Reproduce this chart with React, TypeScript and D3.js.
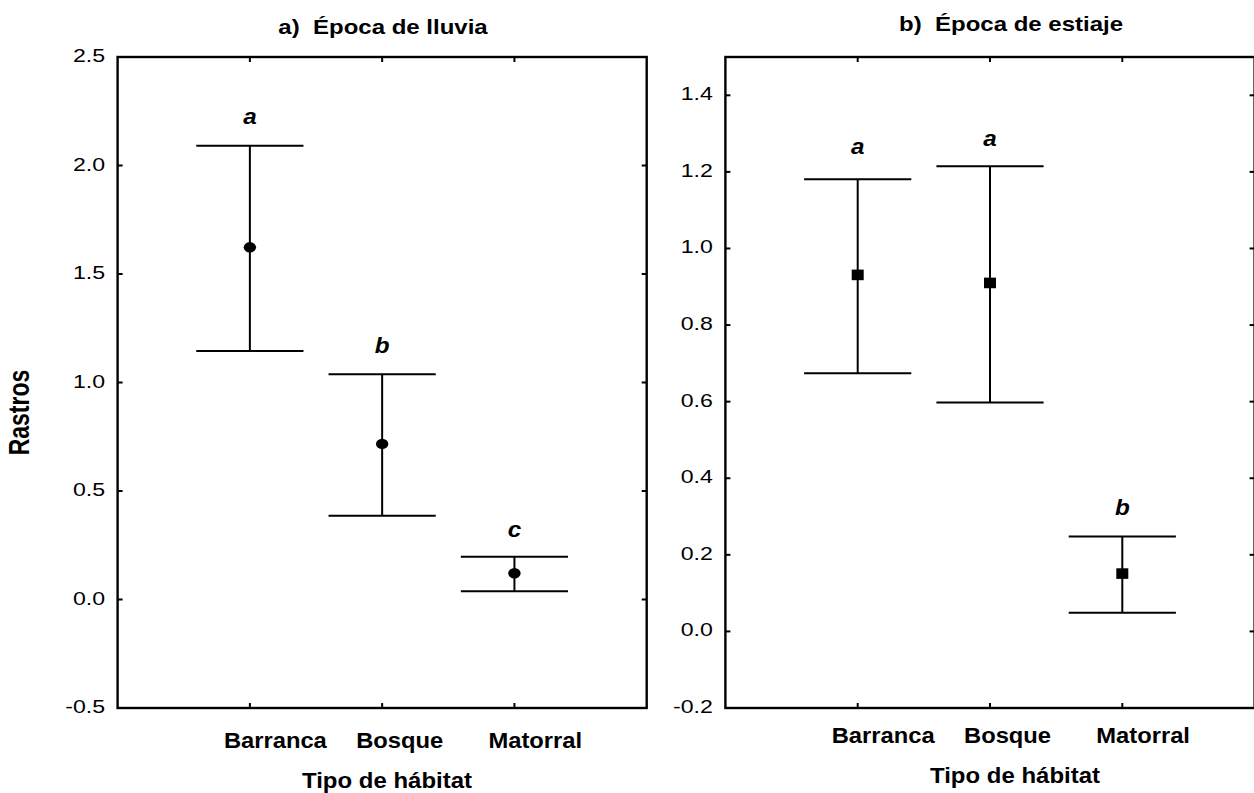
import React from "react";
import * as d3 from "d3";

const categories = ["Barranca", "Bosque", "Matorral"];

const lluviaMean = [1.623, 0.717, 0.121];
const lluviaUpper = [2.091, 1.038, 0.197];
const lluviaLower = [1.145, 0.386, 0.038];
const lluviaLetters = ["a", "b", "c"];
const lluviaLetterY = [2.191, 1.137, 0.289];
const lluviaTicks = [-0.5, 0, 0.5, 1.0, 1.5, 2.0, 2.5];
const lluviaDomain = [-0.5, 2.5];

const estiajeMean = [0.931, 0.91, 0.151];
const estiajeUpper = [1.181, 1.215, 0.248];
const estiajeLower = [0.674, 0.598, 0.049];
const estiajeLetters = ["a", "a", "b"];
const estiajeLetterY = [1.247, 1.267, 0.303];
const estiajeTicks = [-0.2, 0, 0.2, 0.4, 0.6, 0.8, 1.0, 1.2, 1.4];
const estiajeDomain = [-0.2, 1.5];

const FONT = "'Liberation Sans', Arial, Helvetica, sans-serif";

type PanelProps = {
  left: number;
  right: number;
  top: number;
  bottom: number;
  domain: number[];
  ticks: number[];
  mean: number[];
  upper: number[];
  lower: number[];
  letters: string[];
  letterY: number[];
  marker: "circle" | "square";
  title: string;
  titleX: number;
  titleY: number;
  catY: number;
  axisTitleX: number;
  axisTitleY: number;
};

function SText(props: {
  x: number;
  y: number;
  sx: number;
  anchor?: string;
  size: number;
  weight?: string;
  italic?: boolean;
  children: React.ReactNode;
}) {
  return (
    <text
      transform={`translate(${props.x},${props.y}) scale(${props.sx},1)`}
      textAnchor={props.anchor || "start"}
      fontSize={props.size}
      fontWeight={props.weight || "normal"}
      fontStyle={props.italic ? "italic" : "normal"}
      fontFamily={FONT}
      fill="#000"
    >
      {props.children}
    </text>
  );
}

function Panel(p: PanelProps) {
  const x = d3.scalePoint<string>().domain(categories).range([p.left, p.right]).padding(1);
  const y = d3.scaleLinear().domain(p.domain).range([p.bottom, p.top]);
  const capHalf = 53.6;
  const tickLen = 5;
  return (
    <g>
      <rect
        x={p.left}
        y={p.top}
        width={p.right - p.left}
        height={p.bottom - p.top}
        fill="none"
        stroke="#000"
        strokeWidth={2.4}
      />
      {p.ticks.map((t) => (
        <g key={"yt" + t}>
          <line x1={p.left} x2={p.left + tickLen} y1={y(t)} y2={y(t)} stroke="#000" strokeWidth={2} />
          <line x1={p.right} x2={p.right - tickLen} y1={y(t)} y2={y(t)} stroke="#000" strokeWidth={2} />
          <SText x={p.left - 12.5} y={y(t) + 5} sx={1.25} anchor="end" size={18.5}>
            {t.toFixed(1)}
          </SText>
        </g>
      ))}
      {categories.map((c) => (
        <g key={"xt" + c}>
          <line x1={x(c)!} x2={x(c)!} y1={p.bottom} y2={p.bottom - tickLen} stroke="#000" strokeWidth={2} />
          <line x1={x(c)!} x2={x(c)!} y1={p.top} y2={p.top + tickLen} stroke="#000" strokeWidth={2} />
          <SText x={x(c)! - 26} y={p.catY} sx={1.08} anchor="start" size={22} weight="bold">
            {c}
          </SText>
        </g>
      ))}
      {categories.map((c, i) => {
        const cx = x(c)!;
        return (
          <g key={"eb" + c}>
            <line x1={cx} x2={cx} y1={y(p.upper[i])} y2={y(p.lower[i])} stroke="#000" strokeWidth={2} />
            <line x1={cx - capHalf} x2={cx + capHalf} y1={y(p.upper[i])} y2={y(p.upper[i])} stroke="#000" strokeWidth={2} />
            <line x1={cx - capHalf} x2={cx + capHalf} y1={y(p.lower[i])} y2={y(p.lower[i])} stroke="#000" strokeWidth={2} />
            {p.marker === "circle" ? (
              <ellipse cx={cx} cy={y(p.mean[i])} rx={6.2} ry={5.2} fill="#000" />
            ) : (
              <rect x={cx - 6} y={y(p.mean[i]) - 5.3} width={12} height={10.6} fill="#000" />
            )}
            <SText x={cx} y={y(p.letterY[i])} sx={1.1} anchor="middle" size={22} weight="bold" italic>
              {p.letters[i]}
            </SText>
          </g>
        );
      })}
      <SText x={p.titleX} y={p.titleY} sx={1.2} anchor="middle" size={20} weight="bold">
        {p.title}
      </SText>
      <SText x={p.axisTitleX} y={p.axisTitleY} sx={1.09} anchor="middle" size={22} weight="bold">
        Tipo de hábitat
      </SText>
    </g>
  );
}

export default function App() {
  return (
    <svg
      width={1254}
      height={793}
      style={{ position: "absolute", left: 0, top: 0, background: "#fff" }}
    >
      <rect x={0} y={0} width={1254} height={793} fill="#fff" />
      <Panel
        left={117.6}
        right={646.7}
        top={57}
        bottom={708}
        domain={lluviaDomain}
        ticks={lluviaTicks}
        mean={lluviaMean}
        upper={lluviaUpper}
        lower={lluviaLower}
        letters={lluviaLetters}
        letterY={lluviaLetterY}
        marker="circle"
        title={"a)\u00A0\u00A0Época de lluvia"}
        titleX={383}
        titleY={34}
        catY={748}
        axisTitleX={387}
        axisTitleY={787.5}
      />
      <Panel
        left={725.4}
        right={1254.6}
        top={57}
        bottom={708}
        domain={estiajeDomain}
        ticks={estiajeTicks}
        mean={estiajeMean}
        upper={estiajeUpper}
        lower={estiajeLower}
        letters={estiajeLetters}
        letterY={estiajeLetterY}
        marker="square"
        title={"b)\u00A0\u00A0Época de estiaje"}
        titleX={1011}
        titleY={31}
        catY={743}
        axisTitleX={1015}
        axisTitleY={783}
      />
      <text
        transform="translate(29,412.5) scale(1.3,1) rotate(-90)"
        textAnchor="middle"
        fontSize={23}
        fontWeight="bold"
        fontFamily={FONT}
        fill="#000"
      >
        Rastros
      </text>
    </svg>
  );
}
